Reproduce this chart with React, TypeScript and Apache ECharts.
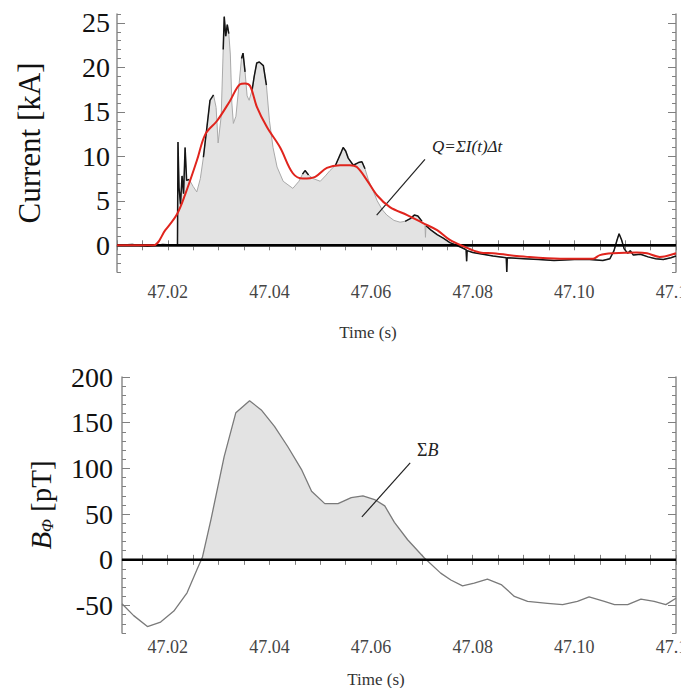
import React, { useEffect, useRef } from "react";
import * as echarts from "echarts";

// ---------- Top panel: current ----------
const currentTime = [
  47.01, 47.013, 47.016, 47.019, 47.0219, 47.022, 47.0222, 47.0225, 47.0228, 47.0231,
  47.0234, 47.0237, 47.0242, 47.025, 47.0257, 47.0264, 47.027, 47.0277, 47.0283, 47.029,
  47.0295, 47.0299, 47.0305, 47.0309, 47.0311, 47.0314, 47.0317, 47.032, 47.0323, 47.0326,
  47.0329, 47.0334, 47.034, 47.0345, 47.0348, 47.0352, 47.0356, 47.036, 47.0366, 47.037,
  47.0375, 47.038, 47.0388, 47.0394, 47.04, 47.0407, 47.0415, 47.0427, 47.0446, 47.0458,
  47.0465, 47.047, 47.0477, 47.0486, 47.05, 47.051, 47.0519, 47.053, 47.054, 47.0545,
  47.055, 47.0555, 47.0565, 47.0575, 47.0582, 47.0588, 47.0595, 47.0605, 47.0612, 47.0622,
  47.0631, 47.0645, 47.0657, 47.0667, 47.0677, 47.0685, 47.0692, 47.07, 47.0706, 47.0707,
  47.0708, 47.0718, 47.073, 47.0742, 47.0755, 47.0768, 47.078, 47.0787, 47.0788, 47.0789,
  47.08, 47.082, 47.084, 47.0866, 47.0867, 47.0868, 47.09, 47.093, 47.096, 47.1,
  47.103, 47.1056, 47.107, 47.1078, 47.1084, 47.1088, 47.1093, 47.1098, 47.1105, 47.111,
  47.1116, 47.113, 47.1145, 47.116, 47.1175, 47.119, 47.12,
];
const currentRaw = [
  0.0, 0.1, -0.1, 0.1, 0.0, 11.6, 6.5, 4.6, 7.8, 5.8,
  11.0, 7.3, 7.4, 6.6, 6.0, 7.5, 9.9, 13.3, 16.3, 16.9,
  15.5, 11.5, 14.5, 22.0, 25.7, 23.5, 24.8, 23.8, 21.5, 16.0,
  13.7, 14.5, 18.0, 21.0, 21.6, 19.5, 16.8, 16.3, 17.5, 19.0,
  20.5, 20.6, 20.2, 18.0, 14.0, 11.0, 8.8, 7.2, 6.4, 7.2,
  8.0, 8.4, 7.9, 7.5, 7.2, 7.8, 8.4, 9.0, 10.3, 11.0,
  10.6, 9.8, 9.0, 9.3, 9.4, 8.6, 7.3, 6.0, 5.0, 4.0,
  3.4, 2.8, 2.6, 2.7, 3.0, 3.4, 3.3, 2.7, 2.3, 0.9,
  2.2, 1.7, 1.2, 0.8, 0.3, 0.0, -0.3, -0.5, -1.8, -0.6,
  -0.8, -1.0, -1.2, -1.4, -3.0, -1.4, -1.5, -1.6, -1.7, -1.6,
  -1.6, -1.7, -1.5, -0.6, 0.6, 1.3, 0.6, -0.4, -0.9, -0.6,
  -1.1, -1.0, -1.3, -1.5, -1.6, -1.4, -1.2,
];
// 1 = part of the trace drawn dark, 0 = only the light grey trace
const currentDark = [
  1, 1, 1, 1, 1, 1, 1, 1, 1, 1,
  1, 1, 1, 0, 0, 0, 1, 1, 1, 1,
  0, 0, 0, 1, 1, 1, 1, 1, 0, 0,
  0, 0, 0, 1, 1, 1, 0, 0, 1, 1,
  1, 1, 1, 1, 0, 0, 0, 0, 0, 0,
  1, 1, 1, 0, 0, 0, 0, 1, 1, 1,
  1, 1, 1, 1, 1, 1, 0, 0, 0, 0,
  0, 0, 0, 1, 1, 1, 1, 1, 0, 0,
  1, 1, 1, 1, 1, 1, 1, 1, 1, 1,
  1, 1, 1, 1, 1, 1, 1, 1, 1, 1,
  1, 1, 1, 1, 1, 1, 1, 1, 1, 1,
  1, 1, 1, 1, 1, 1, 1,
];
const smoothTime = [
  47.01, 47.0171, 47.0195, 47.0218, 47.0234, 47.0257, 47.0274, 47.0297, 47.0322, 47.0342,
  47.0352, 47.0362, 47.0375, 47.0395, 47.0421, 47.0446, 47.0466, 47.049, 47.0513, 47.0539,
  47.0558, 47.0572, 47.0592, 47.0612, 47.0637, 47.0671, 47.0702, 47.073, 47.0755, 47.0781,
  47.0814, 47.084, 47.0907, 47.0972, 47.1037, 47.105, 47.1076, 47.1123, 47.1143, 47.1168,
  47.12,
];
const smoothCurrent = [
  0.0, 0.0, 1.7, 3.5, 5.7, 9.5, 12.5, 14.0, 16.2, 18.1,
  18.2, 17.9, 15.6, 13.3, 11.0, 8.1, 7.5, 7.7, 8.7, 9.0,
  9.0, 8.8, 7.3, 5.6, 4.3, 3.4, 2.5, 1.7, 0.6, -0.1,
  -0.8, -0.9, -1.3, -1.5, -1.5, -1.1, -0.9, -0.8, -0.9, -1.3,
  -0.9,
];
const chargeWindow = [47.022, 47.0768];

// ---------- Bottom panel: B_phi ----------
const bTime = [
  47.011, 47.0133, 47.016, 47.0186, 47.0212, 47.0238, 47.0258, 47.0268, 47.0285, 47.0311,
  47.0334, 47.0361, 47.0384, 47.041, 47.0436, 47.0463, 47.0483, 47.0509, 47.0535, 47.0561,
  47.0584, 47.0607, 47.0627, 47.0646, 47.0672, 47.0705, 47.0737, 47.0757, 47.078, 47.0803,
  47.0829, 47.0856, 47.0882, 47.0908, 47.0947, 47.0977, 47.1006, 47.1029, 47.1059, 47.1079,
  47.1105, 47.1131, 47.1157, 47.118, 47.12,
];
const bField = [
  -48, -61, -73, -68, -56, -36, -10, 2.5, 44, 113,
  161, 174, 164, 146, 124, 99, 75, 61.5, 61.5, 68,
  70, 66, 59, 41, 22, 2, -14.5, -22, -28.5, -25.5,
  -21, -27, -40, -45.5, -47.5, -49, -45.5, -40.5, -45.5, -49,
  -49, -43, -45.5, -49, -42,
];

// ---------- Axes ----------
const timeTickLabels = [47.02, 47.04, 47.06, 47.08, 47.1, 47.12];
const currentTickLabels = [0, 5, 10, 15, 20, 25];
const bTickLabels = [-50, 0, 50, 100, 150, 200];
const topRange = { xMin: 47.01, xMax: 47.12, yMin: -3, yMax: 26 };
const botRange = { xMin: 47.011, xMax: 47.12, yMin: -80, yMax: 200 };

const SERIF = "Liberation Serif";

function steps(a: number, b: number, s: number, dec: number) {
  const out: number[] = [];
  const n = Math.round((b - a) / s);
  for (let k = 0; k <= n; k++) out.push(Number((a + k * s).toFixed(dec)));
  return out;
}

export default function App() {
  const ref = useRef<HTMLDivElement>(null);
  useEffect(() => {
    if (!ref.current) return;
    const chart = echarts.init(ref.current, undefined, { renderer: "svg" });

    const raw = currentTime.map((t, i) => [t, currentRaw[i]]);
    const dark = currentTime.map((t, i) => [t, currentDark[i] ? currentRaw[i] : "-"]);
    const fillTop = raw.filter((p) => p[0] >= chargeWindow[0] && p[0] <= chargeWindow[1]);
    const smooth = smoothTime.map((t, i) => [t, smoothCurrent[i]]);
    const bData = bTime.map((t, i) => [t, bField[i]]);
    // positive part of B (shaded) with linear zero-crossings
    const bFill: number[][] = [];
    for (let i = 0; i < bTime.length; i++) {
      if (i > 0 && (bField[i - 1] < 0) !== (bField[i] < 0)) {
        const t0 = bTime[i - 1], t1 = bTime[i], v0 = bField[i - 1], v1 = bField[i];
        bFill.push([t0 + ((0 - v0) / (v1 - v0)) * (t1 - t0), 0]);
      }
      if (bField[i] >= 0) bFill.push([bTime[i], bField[i]]);
    }

    const frame = { show: true, lineStyle: { color: "#8c8c8c", width: 1.5 } };
    const tickStyle = { color: "#808080", width: 1 };

    const xTop = steps(47.01, 47.12, 0.005, 3);
    const xBot = steps(47.015, 47.12, 0.005, 3);
    const yTopMinor = steps(-3, 26, 1, 0);
    const yBotMinor = steps(-80, 200, 10, 0);

    const xAxisFor = (gi: number, r: any, ticks: number[], pos: string, labels: boolean, margin: number) => ({
      type: "value",
      gridIndex: gi,
      position: pos,
      min: r.xMin,
      max: r.xMax,
      axisLine: frame,
      splitLine: { show: false },
      axisTick: { show: true, inside: true, length: 5, customValues: ticks, lineStyle: tickStyle },
      axisLabel: labels
        ? {
            show: true,
            customValues: timeTickLabels,
            formatter: (v: number) => v.toFixed(2),
            color: "#454545",
            fontFamily: SERIF,
            fontSize: 18,
            margin,
          }
        : { show: false },
    });

    const yAxisFor = (gi: number, r: any, ticks: number[], pos: string, len: number, line: boolean, labels: any, name?: any) => ({
      type: "value",
      gridIndex: gi,
      position: pos,
      min: r.yMin,
      max: r.yMax,
      axisLine: line ? frame : { show: false },
      splitLine: { show: false },
      axisTick: { show: true, inside: true, length: len, customValues: ticks, lineStyle: tickStyle },
      axisLabel: labels || { show: false },
      ...(name || {}),
    });

    const yLabelStyle = (vals: number[], margin: number) => ({
      show: true,
      customValues: vals,
      color: "#111",
      fontFamily: SERIF,
      fontSize: 28,
      margin,
    });

    const option: any = {
      animation: false,
      backgroundColor: "#ffffff",
      textStyle: { fontFamily: SERIF },
      grid: [
        { left: 117, right: 5, top: 14, bottom: 416, containLabel: false, outerBoundsMode: "none" },
        { left: 122, right: 5, top: 377, bottom: 55, containLabel: false, outerBoundsMode: "none" },
      ],
      xAxis: [
        xAxisFor(0, topRange, xTop, "bottom", true, 11),
        xAxisFor(0, topRange, xTop, "top", false, 0),
        xAxisFor(1, botRange, xBot, "bottom", true, 5),
        xAxisFor(1, botRange, xBot, "top", false, 0),
      ],
      yAxis: [
        yAxisFor(0, topRange, yTopMinor, "left", 4, true, yLabelStyle(currentTickLabels, 7), {
          name: "Current [kA]",
          nameLocation: "middle",
          nameGap: 72,
          nameRotate: 90,
          nameTextStyle: { fontFamily: SERIF, fontSize: 31, color: "#111" },
        }),
        yAxisFor(0, topRange, currentTickLabels, "left", 8, false, null),
        yAxisFor(0, topRange, yTopMinor, "right", 4, true, null),
        yAxisFor(0, topRange, currentTickLabels, "right", 8, false, null),
        yAxisFor(1, botRange, yBotMinor, "left", 4, true, yLabelStyle(bTickLabels, 9), {
          name: "{b|B}{s|Φ} {n|[pT]}",
          nameLocation: "middle",
          nameGap: 66,
          nameRotate: 90,
          nameTextStyle: {
            fontFamily: SERIF,
            fontSize: 28,
            color: "#111",
            rich: {
              b: { fontFamily: SERIF, fontSize: 29, fontStyle: "italic", color: "#111", lineHeight: 30 },
              s: { fontFamily: SERIF, fontSize: 17, fontStyle: "italic", color: "#111", verticalAlign: "bottom", lineHeight: 30 },
              n: { fontFamily: SERIF, fontSize: 29, color: "#111", lineHeight: 30 },
            },
          },
        }),
        yAxisFor(1, botRange, bTickLabels, "left", 8, false, null),
        yAxisFor(1, botRange, yBotMinor, "right", 4, true, null),
        yAxisFor(1, botRange, bTickLabels, "right", 8, false, null),
      ],
      series: [
        {
          name: "Q fill",
          type: "line",
          xAxisIndex: 0,
          yAxisIndex: 0,
          data: fillTop,
          symbol: "none",
          lineStyle: { width: 0 },
          areaStyle: { color: "#e3e3e3", opacity: 1 },
          z: 1,
        },
        {
          name: "current (light)",
          type: "line",
          xAxisIndex: 0,
          yAxisIndex: 0,
          data: raw,
          symbol: "none",
          lineStyle: { color: "#a9a9a9", width: 1 },
          z: 2,
        },
        {
          name: "current",
          type: "line",
          xAxisIndex: 0,
          yAxisIndex: 0,
          data: dark,
          symbol: "none",
          connectNulls: false,
          lineStyle: { color: "#151515", width: 1.5 },
          z: 3,
        },
        {
          name: "zero",
          type: "line",
          xAxisIndex: 0,
          yAxisIndex: 0,
          data: [
            [topRange.xMin, 0],
            [topRange.xMax, 0],
          ],
          symbol: "none",
          lineStyle: { color: "#000", width: 2.5 },
          z: 4,
          markLine: {
            silent: true,
            symbol: ["none", "none"],
            label: { show: false },
            lineStyle: { color: "#222", width: 1.2, type: "solid" },
            data: [[{ coord: [47.0611, 3.4] }, { coord: [47.0706, 9.65] }]],
          },
        },
        {
          name: "smoothed",
          type: "line",
          xAxisIndex: 0,
          yAxisIndex: 0,
          data: smooth,
          symbol: "none",
          smooth: 0.35,
          lineStyle: { color: "#e0241d", width: 2 },
          z: 5,
        },
        {
          name: "B fill",
          type: "line",
          xAxisIndex: 2,
          yAxisIndex: 4,
          data: bFill,
          symbol: "none",
          lineStyle: { width: 0 },
          areaStyle: { color: "#e3e3e3", opacity: 1 },
          z: 1,
        },
        {
          name: "B",
          type: "line",
          xAxisIndex: 2,
          yAxisIndex: 4,
          data: bData,
          symbol: "none",
          lineStyle: { color: "#7a7a7a", width: 1.3 },
          z: 2,
        },
        {
          name: "zeroB",
          type: "line",
          xAxisIndex: 2,
          yAxisIndex: 4,
          data: [
            [botRange.xMin, 0],
            [botRange.xMax, 0],
          ],
          symbol: "none",
          lineStyle: { color: "#000", width: 2.5 },
          z: 3,
          markLine: {
            silent: true,
            symbol: ["none", "none"],
            label: { show: false },
            lineStyle: { color: "#222", width: 1.2, type: "solid" },
            data: [[{ coord: [47.0582, 47] }, { coord: [47.0677, 106] }]],
          },
        },
      ],
      graphic: [
        {
          type: "text",
          left: 432,
          top: 138,
          style: { text: "Q=ΣI(t)Δt", font: "italic 17px " + SERIF, fill: "#222" },
        },
        {
          type: "text",
          left: 417,
          top: 441,
          style: {
            text: "{a|Σ}{b|B}",
            rich: {
              a: { fontFamily: SERIF, fontSize: 18, fill: "#222" } as any,
              b: { fontFamily: SERIF, fontSize: 18, fontStyle: "italic", fill: "#222" } as any,
            },
          },
        },
        {
          type: "text",
          x: 368,
          y: 332,
          style: { text: "Time (s)", font: "17px " + SERIF, fill: "#333", align: "center", verticalAlign: "middle" },
        },
        {
          type: "text",
          x: 376,
          y: 679,
          style: { text: "Time (s)", font: "17px " + SERIF, fill: "#333", align: "center", verticalAlign: "middle" },
        },
      ],
    };

    chart.setOption(option);
    return () => chart.dispose();
  }, []);

  return (
    <div
      ref={ref}
      style={{ position: "absolute", left: 0, top: 0, width: 681, height: 688, background: "#fff" }}
    />
  );
}
